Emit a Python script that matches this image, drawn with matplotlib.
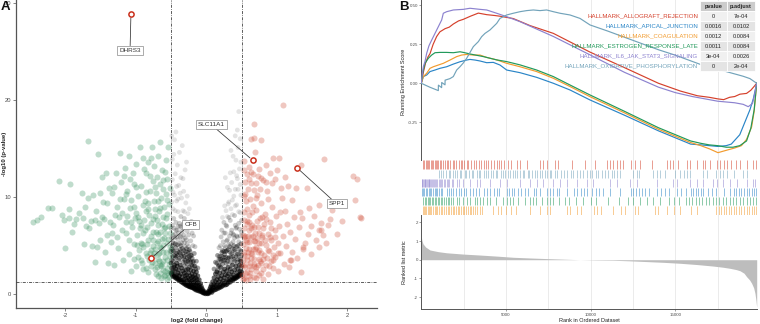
import matplotlib
matplotlib.use("Agg")
import matplotlib.pyplot as plt
import numpy as np
from matplotlib.patches import Rectangle

plt.rcParams['font.family'] = ['Liberation Sans', 'DejaVu Sans']
plt.rcParams['axes.unicode_minus'] = False

# ---------------- Volcano data (log2FC, -log10 p) ----------------
green_points = [
    (-2.45,7.4),(-2.40,7.6),(-2.34,8.0),(-2.24,8.9),(-2.19,8.9),(-2.08,11.7),(-2.04,8.2),(-2.02,7.6),(-2.0,4.8),
    (-1.95,8.8),(-1.94,7.9),(-1.93,11.3),(-1.87,7.2),(-1.84,7.7),(-1.80,8.4),(-1.76,10.4),(-1.73,5.2),(-1.72,9.0),
    (-1.70,7.0),(-1.68,15.8),(-1.67,9.9),(-1.66,6.8),(-1.63,7.5),(-1.60,10.2),(-1.58,3.3),(-1.56,8.6),(-1.55,4.9),
    (-1.53,14.4),(-1.52,7.3),(-1.51,10.4),(-1.50,5.6),(-1.48,12.1),(-1.47,8.0),(-1.45,7.7),(-1.44,4.4),(-1.42,12.5),
    (-1.41,6.1),(-1.40,9.4),(-1.38,10.9),(-1.36,7.4),(-1.35,5.4),(-1.34,10.4),(-1.32,7.1),(-1.31,11.0),(-1.30,3.0),
    (-1.28,12.5),(-1.27,9.0),(-1.26,5.9),(-1.25,4.8),(-1.24,8.0),(-1.22,14.5),(-1.21,11.6),(-1.20,8.4),(-1.19,6.6),
    (-1.18,3.5),(-1.17,12.2),(-1.16,9.8),(-1.14,7.4),(-1.13,6.3),(-1.12,10.6),(-1.10,14.2),(-1.09,4.1),(-1.08,8.9),
    (-1.07,2.4),(-1.06,9.7),(-1.05,6.9),(-1.04,12.5),(-1.03,5.2),(-1.02,11.3),(-1.01,7.8),(-1.00,2.9),(-0.99,13.4),
    (-0.98,6.1),(-0.97,10.1),(-0.96,8.0),(-0.95,4.6),(-0.94,15.2),(-0.93,7.1),(-0.92,11.1),(-0.91,3.2),(-0.90,9.2),
    (-0.89,4.9),(-0.88,12.9),(-0.87,6.6),(-0.86,8.6),(-0.85,12.5),(-0.84,3.9),(-0.83,9.4),(-0.82,5.6),(-0.81,3.5),
    (-0.80,10.6),(-0.79,7.3),(-0.78,14.0),(-0.77,15.2),(-0.76,5.0),(-0.75,7.7),(-0.74,13.2),(-0.73,2.6),(-0.72,8.8),
    (-0.71,10.4),(-0.70,5.3),(-0.69,6.2),(-0.68,14.2),(-0.67,4.2),(-0.66,2.2),(-0.65,15.7),(-0.64,9.9),(-0.63,3.1),
    (-0.62,8.0),(-0.61,11.8),(-0.60,5.8),(-0.59,6.3),(-0.58,2.0),(-0.57,13.8),(-0.56,9.7),(-0.55,3.5),(-0.54,15.2),
    (-0.53,7.0),(-0.52,4.5),(-0.51,10.9),
    (-0.97,3.8),(-0.94,6.8),(-0.92,5.3),(-0.90,2.6),(-0.88,7.6),(-0.86,4.3),(-0.84,6.9),(-0.83,2.3),(-0.81,8.2),
    (-0.79,4.6),(-0.78,2.9),(-0.76,6.4),(-0.75,3.9),(-0.74,9.6),(-0.72,4.7),(-0.71,2.1),(-0.70,7.6),(-0.69,3.6),
    (-0.68,5.5),(-0.67,8.6),(-0.66,3.0),(-0.65,6.4),(-0.64,4.8),(-0.63,7.2),(-0.62,2.5),(-0.61,5.1),(-0.60,9.0),
    (-0.59,3.8),(-0.58,6.9),(-0.57,4.4),(-0.56,2.7),(-0.55,8.3),(-0.54,5.7),(-0.53,3.1),(-0.52,6.3),(-0.51,2.3),
    (-0.51,4.9),(-0.53,1.8),(-0.56,1.6),(-0.60,1.9),(-0.64,1.7),(-0.69,1.9),(-0.55,11.9),(-0.58,12.6),(-0.62,10.8),
    (-0.66,11.3),(-0.70,12.1),(-0.73,11.0),(-0.80,12.2),(-0.85,10.5),(-1.02,9.0),(-1.08,11.9),(-1.14,10.3),
    (-1.15,13.0),(-1.22,9.8),(-1.29,8.2),(-1.33,6.3),(-1.39,3.2),(-1.46,9.5),(-1.57,7.6),(-1.62,5.0),(-1.75,7.9),
    (-1.90,6.4),
    (-0.52,3.9),(-0.54,2.2),(-0.56,5.3),(-0.57,7.8),(-0.59,2.4),(-0.60,6.8),(-0.61,3.4),(-0.62,4.4),(-0.63,5.7),
    (-0.64,2.9),(-0.65,8.9),(-0.66,4.9),(-0.67,3.4),(-0.68,7.1),(-0.69,4.1),(-0.70,2.8),(-0.71,6.4),(-0.72,3.2),
    (-0.73,8.1),(-0.74,4.3),(-0.75,5.6),(-0.77,3.3),(-0.78,6.0),(-0.80,4.3),(-0.82,8.8),(-0.84,5.2),(-0.86,2.7),
    (-0.87,9.6),(-0.89,6.3),(-0.91,5.2),(-0.93,3.5),(-0.95,7.5),(-0.98,5.1),(-1.00,8.4),(-1.03,3.6),(-1.06,7.4),
    (-1.10,5.6),(-1.12,8.1),(-0.53,9.3),(-0.57,10.3),(-0.63,12.8),(-0.68,9.6),(-0.76,11.7),(-0.82,13.6),
    (-0.90,14.0),(-0.99,11.0),
]

red_points = [
    (1.09,19.5),(0.68,17.5),(0.64,16.0),(0.68,16.1),(0.78,15.9),(0.69,14.6),(0.53,13.7),(0.53,12.8),(0.94,14.0),
    (1.03,14.0),(1.34,13.3),(1.67,13.9),(2.08,12.2),(2.14,11.9),(2.11,9.7),(2.19,7.9),(0.73,12.2),(0.78,12.0),
    (0.90,12.5),(0.93,11.5),(1.16,11.1),(1.27,10.9),(1.42,10.9),(1.59,9.2),(1.75,7.7),(1.62,7.3),(1.49,7.0),
    (1.33,8.5),(1.21,9.7),(1.07,9.9),(1.20,3.5),(1.37,4.9),(1.45,8.9),(1.72,7.1),(1.59,6.6),(1.37,4.7),(1.63,6.6),
    (2.18,8.0),(1.18,3.5),
    (0.51,2.0),(0.52,3.5),(0.52,5.2),(0.53,6.8),(0.53,8.5),(0.54,1.7),(0.54,4.4),(0.55,2.8),(0.55,6.0),(0.56,9.6),
    (0.57,3.9),(0.57,7.5),(0.58,2.3),(0.58,5.4),(0.59,10.8),(0.60,4.7),(0.60,1.9),(0.61,6.6),(0.61,8.2),(0.62,3.2),
    (0.63,5.9),(0.63,11.4),(0.64,2.6),(0.65,7.1),(0.65,4.1),(0.66,9.1),(0.67,1.8),(0.67,5.5),(0.68,3.6),(0.69,6.3),
    (0.70,8.7),(0.70,2.4),(0.71,4.9),(0.72,10.2),(0.73,3.0),(0.73,6.9),(0.74,5.3),(0.75,2.0),(0.76,7.8),(0.77,4.3),
    (0.78,3.2),(0.78,9.4),(0.79,5.9),(0.80,2.6),(0.81,6.8),(0.82,4.0),(0.83,8.3),(0.84,3.0),(0.85,5.1),(0.86,10.6),
    (0.87,2.1),(0.88,6.2),(0.89,4.5),(0.90,7.4),(0.91,3.4),(0.92,5.6),(0.93,9.0),(0.95,2.7),(0.96,4.9),(0.97,6.6),
    (0.98,3.8),(0.99,8.1),(1.01,5.3),(1.02,2.4),(1.03,7.0),(1.05,4.2),(1.06,10.9),(1.08,6.0),(1.10,3.1),(1.11,8.6),
    (1.13,5.0),(1.15,7.2),(1.17,2.8),(1.19,6.4),(1.22,4.4),(1.24,8.0),(1.26,5.7),(1.29,3.7),(1.31,6.9),(1.34,2.3),
    (1.36,7.8),(1.40,5.3),(1.44,6.2),(1.48,4.1),(1.52,8.1),(1.55,5.6),(1.60,4.9),(1.66,6.1),(1.70,5.3),(1.78,8.7),
    (1.85,6.2),(1.92,7.5),(0.53,10.1),(0.55,11.6),(0.57,12.4),(0.60,13.1),(0.62,9.8),(0.64,12.6),(0.67,10.7),
    (0.71,11.4),(0.75,12.9),(0.80,11.8),(0.84,13.3),(0.88,9.8),(0.97,11.9),(1.00,12.8),(1.12,12.1),(0.52,1.6),
    (0.56,1.5),(0.62,1.6),(0.70,1.7),(0.80,1.6),(0.77,2.2),(0.58,7.2),(0.63,4.3),(0.68,2.9),(0.72,5.8),(0.75,4.6),
    (0.82,7.2),(0.86,3.7),(0.90,5.9),(0.94,4.0),(0.53,5.9),(0.54,3.0),(0.56,4.8),(0.59,6.0),(0.61,2.9),(0.66,6.0),
    (0.69,4.7),(0.74,3.6),(0.79,6.1),
    (0.51,3.0),(0.52,6.1),(0.53,4.0),(0.54,7.6),(0.55,2.2),(0.56,5.6),(0.57,8.8),(0.58,3.5),(0.59,4.4),(0.60,7.4),
    (0.61,5.4),(0.62,2.2),(0.63,6.8),(0.64,3.7),(0.65,8.5),(0.66,4.7),(0.67,3.1),(0.68,6.9),(0.69,5.5),(0.71,2.8),
    (0.72,7.5),(0.73,4.4),(0.74,6.3),(0.76,3.4),(0.77,5.3),(0.79,8.0),(0.81,3.6),(0.83,5.6),(0.85,7.7),(0.87,4.6),
    (0.89,2.9),(0.92,6.8),(0.95,3.5),(0.98,5.9),(1.01,4.3),(1.04,8.5),(0.55,10.3),(0.60,11.9),(0.66,12.4),
    (0.70,9.9),(0.76,10.8),(0.85,11.6),
]

gray_points = [
    (-0.01,0.05),(-0.02,0.15),(-0.03,0.1),(-0.03,0.3),(-0.04,0.2),(-0.05,0.45),(-0.05,0.15),(-0.06,0.3),(-0.06,0.6),
    (-0.07,0.25),(-0.07,0.8),(-0.08,0.45),(-0.08,1.1),(-0.09,0.3),(-0.09,0.7),(-0.10,0.5),(-0.10,1.0),(-0.10,1.5),
    (-0.11,0.35),(-0.11,0.8),(-0.12,0.55),(-0.12,1.2),(-0.12,1.9),(-0.13,0.4),(-0.13,0.9),(-0.13,1.5),(-0.14,0.6),
    (-0.14,1.1),(-0.14,2.3),(-0.15,0.45),(-0.15,0.85),(-0.15,1.7),(-0.16,0.6),(-0.16,1.3),(-0.16,2.0),(-0.16,2.9),
    (-0.17,0.55),(-0.17,1.0),(-0.17,1.6),(-0.18,0.7),(-0.18,1.2),(-0.18,2.4),(-0.18,3.4),(-0.19,0.65),(-0.19,0.95),
    (-0.19,1.8),(-0.20,0.75),(-0.20,1.4),(-0.20,2.1),(-0.20,2.9),(-0.21,0.7),(-0.21,1.1),(-0.21,1.7),(-0.21,4.0),
    (-0.22,0.8),(-0.22,1.3),(-0.22,2.5),(-0.22,3.3),(-0.23,0.75),(-0.23,1.0),(-0.23,1.9),(-0.24,0.85),(-0.24,1.5),
    (-0.24,2.8),(-0.24,4.6),(-0.25,0.8),(-0.25,1.2),(-0.25,2.2),(-0.25,3.6),(-0.26,0.9),(-0.26,1.7),(-0.26,2.6),
    (-0.27,1.0),(-0.27,1.4),(-0.27,3.1),(-0.27,5.2),(-0.28,0.9),(-0.28,2.0),(-0.28,4.1),(-0.29,1.1),(-0.29,1.6),
    (-0.29,2.5),(-0.30,1.0),(-0.30,1.9),(-0.30,3.5),(-0.30,5.8),(-0.31,1.2),(-0.31,2.2),(-0.31,2.9),(-0.32,1.1),
    (-0.32,1.5),(-0.32,4.5),(-0.33,1.3),(-0.33,2.4),(-0.33,3.3),(-0.34,1.2),(-0.34,1.8),(-0.34,6.5),(-0.35,1.4),
    (-0.35,2.7),(-0.35,3.9),(-0.36,1.3),(-0.36,2.1),(-0.36,5.0),(-0.37,1.5),(-0.37,3.0),(-0.38,1.4),(-0.38,1.9),
    (-0.38,4.3),(-0.38,7.3),(-0.39,1.6),(-0.39,2.5),(-0.39,3.5),(-0.40,1.5),(-0.40,2.2),(-0.40,5.6),(-0.41,1.7),
    (-0.41,2.9),(-0.41,4.0),(-0.42,1.6),(-0.42,2.0),(-0.42,3.2),(-0.43,1.8),(-0.43,2.6),(-0.43,4.8),(-0.44,1.7),
    (-0.44,3.7),(-0.44,6.2),(-0.45,1.9),(-0.45,2.4),(-0.45,3.0),(-0.46,1.8),(-0.46,2.8),(-0.46,4.4),(-0.47,2.0),
    (-0.47,3.4),(-0.47,5.3),(-0.48,1.9),(-0.48,2.3),(-0.48,3.9),(-0.49,2.1),(-0.49,2.7),(-0.49,4.7),(-0.50,2.2),
    (-0.50,3.2),
    (-0.12,2.7),(-0.14,3.4),(-0.17,4.2),(-0.19,5.0),(-0.20,6.3),(-0.22,5.5),(-0.23,7.2),(-0.25,6.1),(-0.26,8.3),
    (-0.28,6.9),(-0.29,9.4),(-0.31,7.8),(-0.32,10.6),(-0.33,8.6),(-0.35,9.9),(-0.36,12.0),(-0.37,7.0),(-0.39,11.2),
    (-0.40,8.5),(-0.41,13.3),(-0.42,9.6),(-0.43,7.4),(-0.44,12.4),(-0.45,10.2),(-0.46,14.4),(-0.47,8.8),(-0.48,11.8),
    (-0.49,16.3),(-0.50,6.8),(-0.38,14.6),(-0.45,15.9),(-0.33,11.9),(-0.27,10.1),(-0.43,16.7),(-0.48,13.9),
    (-0.30,12.8),(-0.24,8.8),(-0.21,7.5),(-0.18,6.0),(-0.16,4.9),(-0.36,6.0),(-0.41,6.6),(-0.46,7.8),(-0.49,9.5),
    (-0.34,15.3),(-0.28,13.6),
    (-0.15,2.6),(-0.17,2.9),(-0.19,3.3),(-0.20,3.7),(-0.21,3.0),(-0.22,4.0),(-0.23,3.5),(-0.23,4.4),(-0.24,3.9),
    (-0.25,4.9),(-0.26,3.4),(-0.26,4.3),(-0.27,3.8),(-0.28,4.7),(-0.28,5.6),(-0.29,3.3),(-0.29,4.4),(-0.30,4.9),
    (-0.31,3.9),(-0.31,5.3),(-0.32,3.7),(-0.32,6.1),(-0.33,4.2),(-0.33,5.6),(-0.34,4.7),(-0.35,5.3),(-0.35,6.9),
    (-0.36,4.1),(-0.37,4.6),(-0.37,5.9),(-0.38,3.7),(-0.38,5.2),(-0.39,6.3),(-0.40,4.4),(-0.40,7.0),(-0.41,5.1),
    (-0.42,4.2),(-0.42,5.9),(-0.43,3.9),(-0.43,6.6),(-0.44,5.2),(-0.45,4.0),(-0.45,5.8),(-0.46,6.8),(-0.47,4.5),
    (-0.47,6.1),(-0.48,5.0),(-0.48,7.1),(-0.49,3.5),(-0.49,5.8),(-0.50,4.4),(-0.27,6.5),(-0.31,8.5),(-0.36,8.0),
    (-0.40,9.8),(-0.44,8.6),(-0.47,10.5),(-0.42,11.1),(-0.37,10.4),(-0.33,7.2),(-0.24,6.9),
    (0.01,0.1),(0.02,0.05),(0.02,0.25),(0.03,0.15),(0.04,0.35),(0.04,0.1),(0.05,0.25),(0.05,0.55),(0.06,0.4),
    (0.06,0.75),(0.07,0.3),(0.07,0.95),(0.08,0.5),(0.08,0.2),(0.09,0.8),(0.09,1.3),(0.10,0.4),(0.10,0.65),(0.11,1.0),
    (0.11,1.7),(0.12,0.45),(0.12,0.8),(0.13,1.3),(0.13,2.1),(0.14,0.5),(0.14,0.95),(0.15,1.5),(0.15,0.65),(0.16,1.1),
    (0.16,2.5),(0.17,0.6),(0.17,1.8),(0.18,0.8),(0.18,1.3),(0.18,3.0),(0.19,0.7),(0.19,2.2),(0.20,1.0),(0.20,1.6),
    (0.20,3.6),(0.21,0.75),(0.21,2.7),(0.22,1.2),(0.22,1.9),(0.22,4.3),(0.23,0.85),(0.23,3.1),(0.24,1.4),(0.24,2.3),
    (0.24,0.95),(0.25,1.7),(0.25,3.8),(0.26,1.1),(0.26,2.6),(0.26,5.0),(0.27,0.95),(0.27,2.0),(0.28,1.3),(0.28,3.2),
    (0.28,4.4),(0.29,1.0),(0.29,2.4),(0.30,1.5),(0.30,1.9),(0.30,5.6),(0.31,1.15),(0.31,2.8),(0.31,3.7),(0.32,1.3),
    (0.32,2.1),(0.33,1.6),(0.33,4.9),(0.34,1.25),(0.34,2.6),(0.34,3.3),(0.35,1.45),(0.35,6.3),(0.36,1.8),(0.36,2.3),
    (0.36,4.2),(0.37,1.4),(0.37,3.0),(0.38,1.6),(0.38,2.0),(0.38,5.4),(0.39,1.55),(0.39,3.6),(0.40,1.7),(0.40,2.5),
    (0.40,4.6),(0.41,1.6),(0.41,7.1),(0.42,1.8),(0.42,2.9),(0.42,3.9),(0.43,1.7),(0.43,2.2),(0.43,6.0),(0.44,1.9),
    (0.44,3.3),(0.45,1.8),(0.45,2.6),(0.45,5.0),(0.46,2.0),(0.46,4.1),(0.47,1.9),(0.47,3.0),(0.47,6.7),(0.48,2.1),
    (0.48,2.4),(0.48,3.6),(0.49,2.0),(0.49,4.4),(0.50,2.3),(0.50,2.9),
    (0.11,2.6),(0.13,3.3),(0.15,3.2),(0.16,4.0),(0.18,4.8),(0.19,3.9),(0.21,5.9),(0.22,6.6),(0.24,5.4),(0.25,7.4),
    (0.27,6.3),(0.28,8.6),(0.29,7.0),(0.31,9.3),(0.32,7.9),(0.33,10.7),(0.35,8.8),(0.36,11.5),(0.37,9.7),(0.39,12.6),
    (0.40,8.1),(0.41,10.8),(0.42,13.8),(0.43,9.2),(0.44,11.9),(0.45,15.1),(0.46,8.5),(0.47,12.9),(0.48,16.0),
    (0.49,10.2),(0.50,7.6),(0.46,18.8),(0.44,16.9),(0.38,14.2),(0.34,12.5),(0.49,13.6),(0.30,11.0),(0.26,9.1),
    (0.23,7.9),(0.20,5.0),(0.43,6.9),(0.39,6.1),(0.48,8.4),(0.35,14.8),(0.41,16.3),(0.27,12.0),
    (0.15,2.3),(0.17,2.9),(0.18,3.6),(0.20,2.8),(0.21,3.4),(0.22,3.9),(0.23,4.5),(0.24,3.5),(0.25,4.4),(0.26,3.5),
    (0.26,4.1),(0.27,4.8),(0.28,3.8),(0.29,4.5),(0.29,5.5),(0.30,3.4),(0.31,4.6),(0.32,5.1),(0.32,3.8),(0.33,6.0),
    (0.34,4.3),(0.35,5.2),(0.35,3.8),(0.36,6.6),(0.37,4.7),(0.38,3.9),(0.38,6.2),(0.39,5.0),(0.40,3.4),(0.40,5.8),
    (0.41,4.4),(0.42,6.8),(0.43,4.9),(0.44,4.1),(0.44,5.9),(0.45,3.6),(0.46,5.4),(0.46,7.3),(0.47,4.6),(0.48,6.0),
    (0.49,3.4),(0.49,5.2),(0.50,4.0),(0.50,6.4),(0.28,7.1),(0.32,9.5),(0.37,8.2),(0.41,9.1),(0.45,10.8),(0.48,11.3),
    (0.43,12.2),(0.39,10.1),(0.34,7.6),(0.25,6.3),(0.30,8.0),
]

label_genes = ["DHRS3", "SLC11A1", "SPP1", "CFB"]
label_fc = [-1.067, 0.656, 1.289, -0.783]
label_logp = [28.8, 13.8, 12.99, 3.70]
label_text_pos = [(-1.08, 25.1), (0.07, 17.46), (1.846, 9.31), (-0.222, 7.22)]

fc_cut = 0.5
p_cut = 1.3

# ---------------- GSEA data ----------------
pathways = ["HALLMARK_ALLOGRAFT_REJECTION", "HALLMARK_APICAL_JUNCTION", "HALLMARK_COAGULATION",
            "HALLMARK_ESTROGEN_RESPONSE_LATE", "HALLMARK_IL6_JAK_STAT3_SIGNALING",
            "HALLMARK_OXIDATIVE_PHOSPHORYLATION"]
pvalues = ["0", "0.0016", "0.0012", "0.0011", "3e-04", "0"]
padjust = ["7e-04", "0.0102", "0.0084", "0.0084", "0.0026", "2e-04"]
path_colors = ["#D5402B", "#2A85C7", "#F29B2E", "#21995A", "#8C82CF", "#72A3BA"]

allograft_rank = [0, 120, 250, 400, 514, 700, 907, 1100, 1400, 1650, 1891, 2200, 2480, 2900, 3367, 3860, 4300,
                  4645, 5430, 6417, 7795, 9958, 12000, 14000, 15300, 16300, 17000, 17500, 17850, 18200, 18500,
                  18810, 19200, 19450, 19650, 19800]
allograft_es = [0, 0.07, 0.13, 0.17, 0.19, 0.25, 0.30, 0.33, 0.35, 0.36, 0.38, 0.40, 0.41, 0.43, 0.45, 0.44, 0.435,
                0.43, 0.415, 0.37, 0.32, 0.20, 0.10, 0.0, -0.05, -0.08, -0.09, -0.10, -0.105, -0.09, -0.085,
                -0.07, -0.065, -0.045, -0.02, 0.0]

il6_rank = [0, 60, 120, 220, 317, 450, 612, 809, 1006, 1203, 1300, 1498, 1890, 2480, 2874, 3464, 3860, 4450, 5040,
            5826, 7800, 10000, 12000, 14000, 15000, 16000, 17000, 17500, 18000, 18500, 19000, 19300, 19550, 19680,
            19800]
il6_es = [0, 0.06, 0.106, 0.14, 0.192, 0.24, 0.277, 0.32, 0.363, 0.406, 0.449, 0.459, 0.47, 0.474, 0.481, 0.474,
          0.47, 0.449, 0.427, 0.395, 0.30, 0.18, 0.07, -0.025, -0.06, -0.085, -0.105, -0.115, -0.12, -0.125,
          -0.135, -0.15, -0.13, -0.07, 0.0]

oxphos_rank = [0, 500, 1005, 1010, 1200, 1205, 1400, 1405, 1694, 1890, 2088, 2284, 2478, 2678, 3072, 3367, 3564,
               3761, 4056, 4450, 4645, 5040, 5430, 5826, 6220, 6613, 7007, 7400, 7795, 8189, 8779, 9369, 9960,
               11000, 12000, 13000, 14000, 15000, 16000, 16500, 17000, 17500, 18000, 18500, 19000, 19400, 19800]
oxphos_es = [0, -0.025, -0.047, -0.012, -0.028, 0.005, -0.01, 0.02, 0.03, 0.043, 0.085, 0.106, 0.13, 0.16, 0.235,
             0.267, 0.299, 0.32, 0.342, 0.384, 0.416, 0.438, 0.449, 0.459, 0.466, 0.47, 0.466, 0.47, 0.459, 0.449,
             0.438, 0.416, 0.374, 0.335, 0.295, 0.255, 0.215, 0.18, 0.14, 0.12, 0.105, 0.09, 0.075, 0.06, 0.045,
             0.03, 0.0]

estrogen_rank = [0, 60, 120, 218, 415, 612, 809, 1104, 1498, 1890, 2284, 2480, 2874, 3661, 4450, 5040, 5826, 6810,
                 7795, 8779, 9960, 12000, 14000, 15900, 16500, 17000, 17500, 18000, 18400, 18800, 19200, 19450,
                 19650, 19800]
estrogen_es = [0, 0.05, 0.085, 0.128, 0.16, 0.181, 0.196, 0.198, 0.198, 0.196, 0.202, 0.198, 0.188, 0.171, 0.15,
               0.139, 0.118, 0.085, 0.043, -0.011, -0.075, -0.18, -0.285, -0.37, -0.385, -0.395, -0.40, -0.41,
               -0.41, -0.40, -0.37, -0.29, -0.17, 0.0]

coag_rank = [0, 120, 317, 514, 710, 1005, 1300, 1694, 2088, 2382, 2678, 3072, 3464, 3860, 4450, 5040, 5826, 6810,
             7795, 8779, 9960, 12000, 14000, 15900, 16500, 17000, 17514, 18000, 18500, 18900, 19200, 19500, 19650,
             19800]
coag_es = [0, 0.043, 0.064, 0.096, 0.106, 0.117, 0.128, 0.149, 0.171, 0.181, 0.185, 0.181, 0.181, 0.166, 0.15,
           0.128, 0.106, 0.075, 0.032, -0.021, -0.086, -0.19, -0.295, -0.38, -0.40, -0.42, -0.445, -0.43, -0.415,
           -0.40, -0.36, -0.28, -0.18, 0.0]

apical_rank = [0, 120, 317, 514, 809, 1104, 1498, 1890, 2284, 2678, 2874, 3170, 3464, 3860, 4250, 4645, 5040, 5826,
               6810, 7795, 8779, 9960, 12000, 14000, 15900, 16500, 17000, 17500, 18000, 18300, 18800, 19100, 19400,
               19600, 19800]
apical_es = [0, 0.043, 0.053, 0.075, 0.085, 0.096, 0.106, 0.123, 0.138, 0.149, 0.153, 0.149, 0.143, 0.132, 0.134,
             0.117, 0.085, 0.068, 0.038, 0.0, -0.043, -0.107, -0.205, -0.305, -0.39, -0.395, -0.40, -0.405, -0.40,
             -0.39, -0.33, -0.25, -0.17, -0.10, 0.0]

allograft_hits = [100, 180, 260, 330, 420, 480, 560, 650, 700, 790, 870, 950, 1010, 1100, 1180, 1300, 1420, 1500,
                  1580, 1700, 1850, 1930, 2050, 2200, 2330, 2400, 2550, 2700, 2780, 2950, 3100, 3250, 3400, 3520,
                  3700, 3800, 3950, 4100, 4300, 4450, 4600, 4700, 4900, 5100, 5300, 5650, 5830, 6220, 7010, 7200,
                  7400, 7890, 8090, 8880, 9660, 10250, 10950, 11150, 11340, 11550, 11750, 11930, 12350, 12600,
                  12900, 13600, 14480, 14680, 14880, 15170, 15670, 15860, 16260, 16650, 16750, 17040, 17440, 17630,
                  17850, 18050, 18300, 18550, 18800, 19210, 19600, 19760]
oxphos_hits = [1020, 1180, 1260, 1430, 1610, 1690, 1880, 2010, 2120, 2290, 2370, 2560, 2640, 2800, 2990, 3070, 3260,
               3390, 3480, 3690, 3800, 3950, 4130, 4210, 4400, 4480, 4690, 4810, 4920, 5130, 5220, 5390, 5560, 5640,
               5830, 5990, 6080, 6290, 6350, 6560, 6700, 6830, 7020, 7110, 7290, 7430, 7600, 7680, 7890, 8010, 8230,
               8410, 8590, 8820, 8950, 9210, 9360, 9570, 9800, 9950, 10080, 10290, 10440, 10690, 10870, 11000,
               11230, 11390, 11560, 11740, 12480, 12730, 12880, 13690, 13930, 14120, 14400, 14950, 15290, 15480,
               15690, 15860, 16640, 16870, 17420, 17650, 17840, 18060, 18440, 18990, 19250]
il6_hits = [30, 70, 110, 150, 190, 240, 290, 330, 380, 430, 480, 530, 590, 640, 700, 760, 810, 880, 950, 1020, 1100,
            1170, 1250, 1320, 1400, 1500, 1580, 1650, 1800, 1900, 2100, 2250, 2480, 2880, 3270, 3470, 4060, 4650,
            5040, 5830, 6420, 6810, 7200, 7800, 8200, 8580, 9170, 9760, 10150, 11140, 11530, 12320, 12710, 13890,
            14880, 15080, 15860, 16260, 16650, 17240, 17440, 17830, 18220, 18620, 19210, 19600, 19720]
apical_hits = [20, 100, 180, 260, 350, 430, 520, 600, 680, 780, 870, 950, 1050, 1150, 1250, 1500, 1620, 1750, 1900,
               2050, 2200, 2350, 2500, 2650, 2900, 3050, 3200, 3400, 3700, 3850, 4050, 4300, 4450, 4600, 5050, 5200,
               5350, 5500, 5700, 5900, 6100, 6300, 6650, 6800, 7000, 7450, 7600, 7800, 8000, 8150, 8600, 9000, 9200,
               9400, 9600, 9800, 10050, 10300, 10500, 10745, 11140, 11730, 12350, 12500, 12700, 12850, 13050, 13200,
               13450, 13900, 14150, 14400, 14650, 15100, 15350, 15600, 15900, 16050, 16200, 16350, 16500, 16650,
               16900, 17150, 17400, 17850, 18200, 18450, 18600, 18750, 18900, 19050, 19200, 19350, 19500, 19650,
               19750]
estrogen_hits = [120, 200, 280, 380, 450, 540, 620, 700, 800, 880, 960, 1050, 1150, 1250, 1350, 1450, 1550, 1650,
                 1750, 1880, 2100, 2250, 2450, 2700, 2900, 3150, 3300, 3450, 3650, 3900, 4050, 4400, 4800, 5050,
                 5250, 5400, 5700, 6100, 6400, 6600, 6800, 7100, 7400, 7600, 7800, 8100, 8500, 8700, 9150, 9550,
                 10000, 10300, 11000, 11700, 12200, 12500, 12900, 13300, 13700, 14100, 14600, 14900, 15200, 15600,
                 15800, 16000, 16200, 16400, 16600, 16800, 17000, 17200, 17400, 17600, 17800, 18000, 18200, 18400,
                 18600, 18800, 19000, 19200, 19400, 19600, 19750]
coag_hits = [80, 150, 230, 300, 380, 460, 530, 600, 700, 780, 850, 950, 1050, 1150, 1250, 1350, 1450, 1550, 1650,
             1750, 1850, 1950, 2050, 2150, 2250, 2350, 2450, 2550, 2650, 2750, 2850, 2950, 3050, 3150, 3300, 3450,
             3600, 4250, 4500, 4700, 5000, 5300, 5600, 6400, 7000, 7400, 7600, 8600, 8800, 9200, 9400, 10200, 10400,
             10600, 11300, 11800, 12000, 12600, 12800, 13800, 14000, 14500, 14900, 15300, 15900, 16300, 17400,
             17550, 17700, 17850, 18000, 18150, 18300, 18450, 18600, 18750, 18900, 19050, 19200, 19350, 19500,
             19650, 19750]

metric_rank = [0, 30, 100, 250, 512, 1000, 1496, 2500, 3463, 4500, 5431, 6500, 7399, 8400, 9367, 10300, 11335,
               12300, 13303, 14300, 15271, 16300, 17239, 17800, 18223, 18600, 18813, 19050, 19207, 19380, 19502,
               19620, 19699, 19760, 19800]
metric_value = [1.25, 1.05, 0.85, 0.68, 0.52, 0.43, 0.37, 0.30, 0.25, 0.19, 0.13, 0.09, 0.06, 0.03, 0.0, -0.02,
                -0.03, -0.06, -0.10, -0.14, -0.19, -0.26, -0.34, -0.40, -0.46, -0.53, -0.59, -0.72, -0.91, -1.08,
                -1.26, -1.5, -1.8, -2.2, -2.55]

n_genes = 19800

# ---------------- Figure ----------------
W, H = 760, 324
fig = plt.figure(figsize=(W / 100, H / 100), dpi=100)


def add_ax(l, t, r, b):
    return fig.add_axes([l / W, 1 - b / H, (r - l) / W, (b - t) / H])


AX_COL = "#555555"
TXT_COL = "#4d4d4d"

# ----- Volcano -----
axv = add_ax(16, 0, 377, 308)
axv.set_xlim(-2.695, 2.418)
axv.set_ylim(-1.41, 30.28)

gx = np.array([p[0] for p in gray_points])
gy = np.array([p[1] for p in gray_points])
depth = gy - 2.9 * np.abs(gx)
alph = np.where(depth < 2.0, 0.6, np.where(depth < 4.0, 0.38, np.where(depth < 7.0, 0.2, 0.11)))
gcols = np.zeros((len(gx), 4))
gcols[:, 3] = alph
axv.scatter(gx, gy, s=12, c=gcols, linewidths=0, zorder=2)

axv.scatter([p[0] for p in green_points], [p[1] for p in green_points], s=19, color="#2E8B57",
            alpha=0.3, linewidths=0, zorder=2)
axv.scatter([p[0] for p in red_points], [p[1] for p in red_points], s=19, color="#CD4631",
            alpha=0.3, linewidths=0, zorder=2)

dd = (0, (4, 1.6, 1, 1.6))
axv.axvline(-fc_cut, color="#333333", lw=0.55, ls=dd, zorder=3)
axv.axvline(fc_cut, color="#333333", lw=0.55, ls=dd, zorder=3)
axv.axhline(p_cut, color="#333333", lw=0.55, ls=dd, zorder=3)

for g, fx, fy, (tx, ty) in zip(label_genes, label_fc, label_logp, label_text_pos):
    axv.annotate(g, xy=(fx, fy), xytext=(tx, ty), ha="center", va="center", fontsize=4.6, color="#333333",
                 bbox=dict(boxstyle="square,pad=0.3", fc="white", ec="#8a8a8a", lw=0.5),
                 arrowprops=dict(arrowstyle="-", color="#333333", lw=0.55, shrinkA=0, shrinkB=2.5),
                 zorder=6)
axv.scatter(label_fc, label_logp, s=14, facecolor="white", edgecolor="#C9301C", linewidths=1.1, zorder=7)

for s in ["top", "right"]:
    axv.spines[s].set_visible(False)
for s in ["left", "bottom"]:
    axv.spines[s].set_color(AX_COL)
    axv.spines[s].set_linewidth(0.9)
axv.set_xticks([-2, -1, 0, 1, 2])
axv.set_yticks([0, 10, 20, 30])
axv.tick_params(length=2, width=0.5, color=AX_COL, labelsize=4.2, labelcolor=TXT_COL, pad=1.5)

# ----- GSEA running score -----
ax1 = add_ax(421.3, 0, 756.7, 160)
ax1.set_xlim(0, n_genes)
ax1.set_ylim(-0.492, 0.534)
for xg in range(2500, n_genes, 2500):
    ax1.axvline(xg, color="#ebebeb", lw=0.7, zorder=0)
es_sets = [(allograft_rank, allograft_es, 0), (apical_rank, apical_es, 1), (coag_rank, coag_es, 2),
           (estrogen_rank, estrogen_es, 3), (il6_rank, il6_es, 4), (oxphos_rank, oxphos_es, 5)]
for rk, es, ci in es_sets:
    ax1.plot(rk, es, color=path_colors[ci], lw=0.85, zorder=3, solid_joinstyle="round")
for s in ["top", "right", "bottom"]:
    ax1.spines[s].set_visible(False)
ax1.spines["left"].set_color(AX_COL)
ax1.spines["left"].set_linewidth(0.7)
ax1.set_xticks([])
ax1.set_yticks([-0.25, 0, 0.25, 0.5])
ax1.set_yticklabels(["-0.25", "0.00", "0.25", "0.50"])
ax1.tick_params(axis="y", length=1.5, width=0.4, color=AX_COL, labelsize=3.2, labelcolor=TXT_COL, pad=1)

# ----- hit ticks -----
ax2 = add_ax(421.3, 160, 756.7, 215)
ax2.set_xlim(0, n_genes)
ax2.set_ylim(0, 6)
ax2.axis("off")
for xg in range(2500, n_genes, 2500):
    ax2.axvline(xg, color="#ebebeb", lw=0.7, zorder=0)
hit_rows = [(allograft_hits, 0), (oxphos_hits, 5), (il6_hits, 4), (apical_hits, 1), (estrogen_hits, 3),
            (coag_hits, 2)]
for k, (hits, ci) in enumerate(hit_rows):
    y1 = 6 - k - 0.05
    y0 = 5 - k + 0.05
    ax2.vlines(hits, y0, y1, color=path_colors[ci], lw=0.6, alpha=0.6)

# ----- ranked list metric -----
ax3 = add_ax(421.3, 215, 756.7, 309.3)
ax3.set_xlim(0, n_genes)
ax3.set_ylim(-2.65, 2.39)
for xg in range(2500, n_genes, 2500):
    ax3.axvline(xg, color="#ebebeb", lw=0.7, zorder=0)
ax3.fill_between(metric_rank, metric_value, 0, color="#bdbdbd", lw=0, zorder=2)
for s in ["top", "right"]:
    ax3.spines[s].set_visible(False)
for s in ["left", "bottom"]:
    ax3.spines[s].set_color(AX_COL)
    ax3.spines[s].set_linewidth(0.7)
ax3.set_xticks([5000, 10000, 15000])
ax3.set_yticks([-2, -1, 0, 1, 2])
ax3.tick_params(length=1.5, width=0.4, color=AX_COL, labelsize=3.2, labelcolor=TXT_COL, pad=1)

# ----- overlay: titles, panel letters, table -----
ov = fig.add_axes([0, 0, 1, 1])
ov.set_xlim(0, W)
ov.set_ylim(H, 0)
ov.axis("off")

ov.text(0.5, 0.5, "A", fontsize=9.5, fontweight="bold", ha="left", va="top", color="#111111")
ov.text(399.5, 0.5, "B", fontsize=9.5, fontweight="bold", ha="left", va="top", color="#111111")

ov.text(196.5, 320.5, "log2 (fold change)", ha="center", va="center", fontsize=4.3, fontweight="bold",
        color="#222222")
ov.text(5, 154, "-log10 (p-value)", ha="center", va="center", rotation=90, fontsize=4.3, fontweight="bold",
        color="#222222")
ov.text(589, 320, "Rank in Ordered Dataset", ha="center", va="center", fontsize=4.0, color="#222222")
ov.text(404, 82, "Running Enrichment Score", ha="center", va="center", rotation=90, fontsize=4.0,
        color="#222222")
ov.text(404, 262, "Ranked list metric", ha="center", va="center", rotation=90, fontsize=4.0, color="#222222")

c1x, c2x, c3x = 700.0, 727.0, 755.0
ov.add_patch(Rectangle((c1x, 1), c2x - c1x, 10, fc="#cccccc", ec="white", lw=0.6, zorder=5))
ov.add_patch(Rectangle((c2x, 1), c3x - c2x, 10, fc="#cccccc", ec="white", lw=0.6, zorder=5))
ov.text((c1x + c2x) / 2, 6.2, "pvalue", ha="center", va="center", fontsize=4.1, fontweight="bold",
        color="#222222", zorder=6)
ov.text((c2x + c3x) / 2, 6.2, "p.adjust", ha="center", va="center", fontsize=4.1, fontweight="bold",
        color="#222222", zorder=6)
for i in range(6):
    top = 11 + 10 * i
    fc = "#f0f0f0" if i % 2 == 0 else "#e4e4e4"
    ov.add_patch(Rectangle((c1x, top), c2x - c1x, 10, fc=fc, ec="white", lw=0.6, zorder=5))
    ov.add_patch(Rectangle((c2x, top), c3x - c2x, 10, fc=fc, ec="white", lw=0.6, zorder=5))
    ov.text((c1x + c2x) / 2, top + 5.2, pvalues[i], ha="center", va="center", fontsize=4.1, color="#222222",
            zorder=6)
    ov.text((c2x + c3x) / 2, top + 5.2, padjust[i], ha="center", va="center", fontsize=4.1, color="#222222",
            zorder=6)
    ov.text(698, top + 5.2, pathways[i], ha="right", va="center", fontsize=4.4, color=path_colors[i], zorder=6)

fig.savefig("out.png", dpi=100)
